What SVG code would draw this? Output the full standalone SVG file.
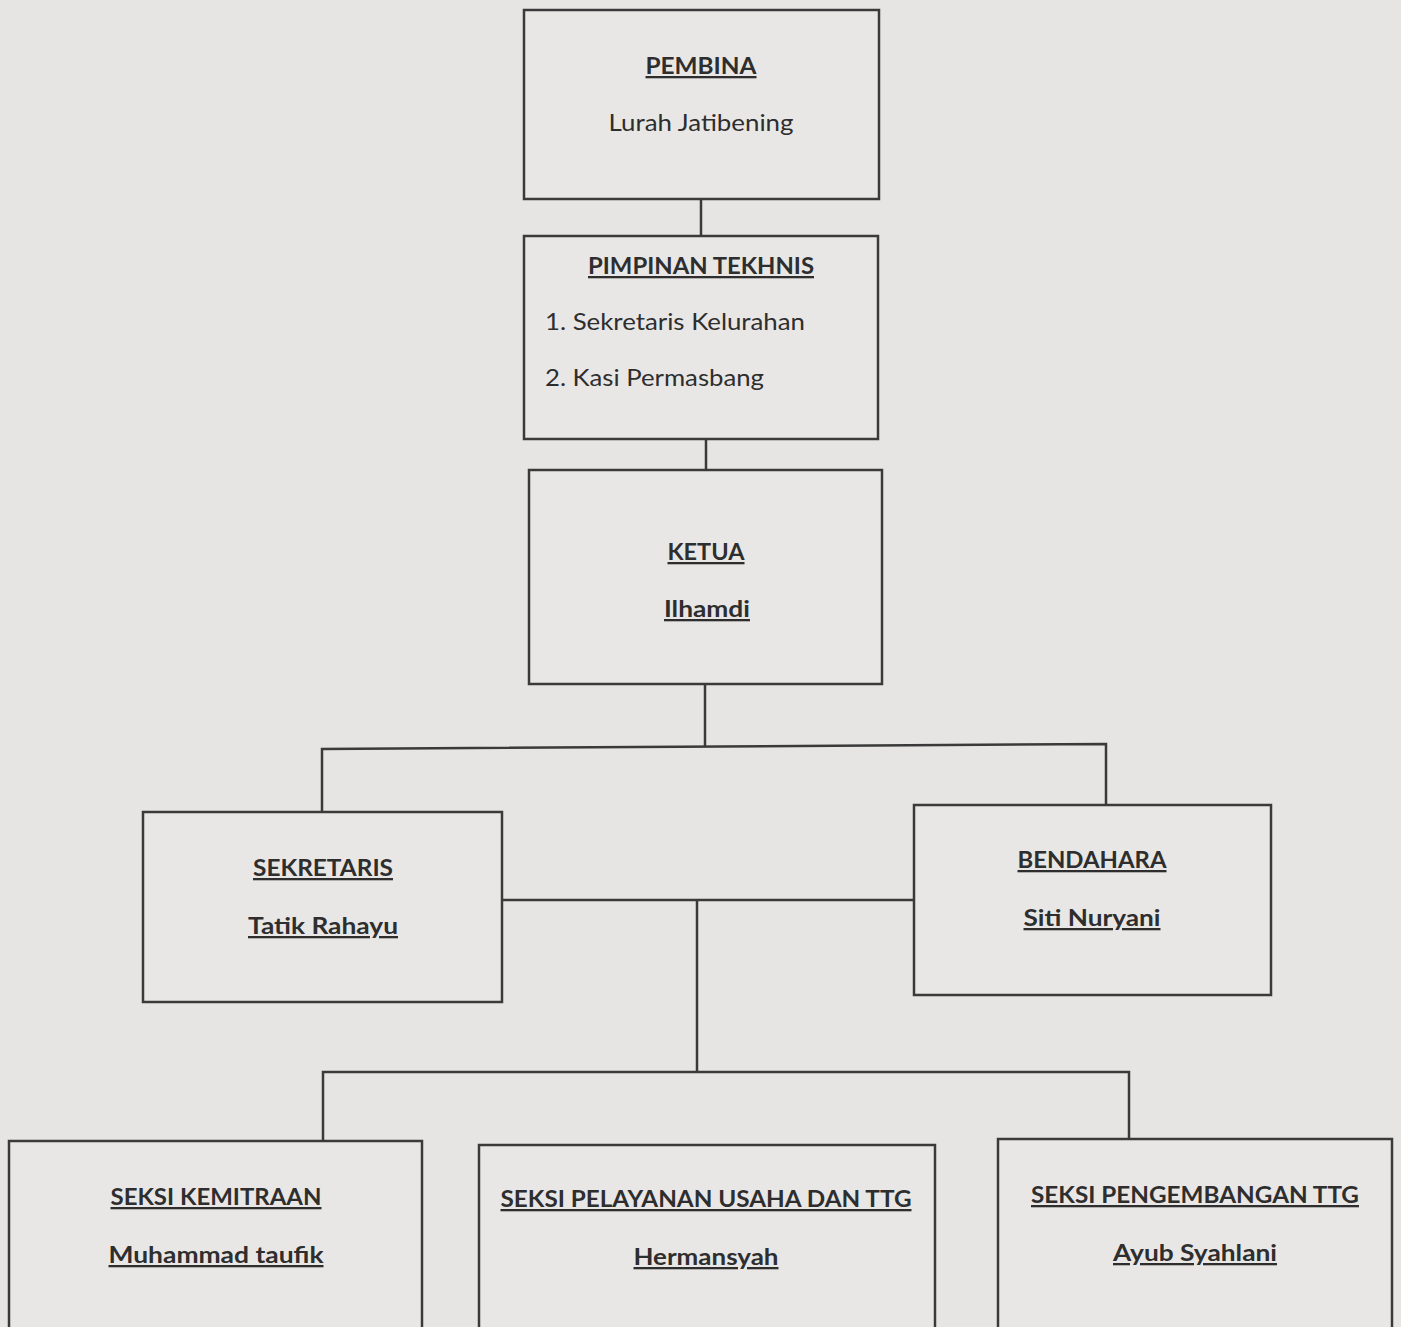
<svg xmlns="http://www.w3.org/2000/svg" width="1401" height="1327" viewBox="0 0 1401 1327">
<style>
.box{fill:#e9e7e6;stroke:#3a3a3a;stroke-width:2.5}
.ln{fill:none;stroke:#3a3a3a;stroke-width:2.5}
text{font-family:Lato,"Open Sans","Liberation Sans",sans-serif;font-size:23px;fill:#2e2e2e}
.b{font-weight:bold;text-decoration:underline}
.c{text-anchor:middle}
</style>
<rect width="1401" height="1327" fill="#e7e5e4"/>
<g id="connectors">
<path class="ln" d="M701 199V236"/>
<path class="ln" d="M706 435V470"/>
<path class="ln" d="M705 684V746"/>
<path class="ln" d="M322 812V749L1106 744V805"/>
<path class="ln" d="M502 900H914"/>
<path class="ln" d="M697 900V1072"/>
<path class="ln" d="M323 1141V1072H1129V1147"/>
</g>
<g id="pembina">
<rect class="box" x="524" y="10" width="355" height="189"/>
<text class="b c" x="701" y="74" textLength="111" lengthAdjust="spacingAndGlyphs">PEMBINA</text>
<text class="c" x="701" y="131" textLength="185" lengthAdjust="spacingAndGlyphs">Lurah Jatibening</text>
</g>
<g id="pimpinan">
<rect class="box" x="524" y="236" width="354" height="203"/>
<text class="b c" x="701" y="274" textLength="226" lengthAdjust="spacingAndGlyphs">PIMPINAN TEKHNIS</text>
<text x="545" y="330" textLength="260" lengthAdjust="spacingAndGlyphs">1. Sekretaris Kelurahan</text>
<text x="545" y="386" textLength="219" lengthAdjust="spacingAndGlyphs">2. Kasi Permasbang</text>
</g>
<g id="ketua">
<rect class="box" x="529" y="470" width="353" height="214"/>
<text class="b c" x="706" y="560" textLength="77" lengthAdjust="spacingAndGlyphs">KETUA</text>
<text class="b c" x="707" y="617" textLength="86" lengthAdjust="spacingAndGlyphs">Ilhamdi</text>
</g>
<g id="sekretaris">
<rect class="box" x="143" y="812" width="359" height="190"/>
<text class="b c" x="323" y="876" textLength="140" lengthAdjust="spacingAndGlyphs">SEKRETARIS</text>
<text class="b c" x="323" y="934" textLength="150" lengthAdjust="spacingAndGlyphs">Tatik Rahayu</text>
</g>
<g id="bendahara">
<rect class="box" x="914" y="805" width="357" height="190"/>
<text class="b c" x="1092" y="868" textLength="149" lengthAdjust="spacingAndGlyphs">BENDAHARA</text>
<text class="b c" x="1092" y="926" textLength="137" lengthAdjust="spacingAndGlyphs">Siti Nuryani</text>
</g>
<g id="seksi-kemitraan">
<rect class="box" x="9" y="1141" width="413" height="200"/>
<text class="b c" x="216" y="1205" textLength="211" lengthAdjust="spacingAndGlyphs">SEKSI KEMITRAAN</text>
<text class="b c" x="216" y="1263" textLength="215" lengthAdjust="spacingAndGlyphs">Muhammad taufik</text>
</g>
<g id="seksi-pelayanan">
<rect class="box" x="479" y="1145" width="456" height="200"/>
<text class="b c" x="706" y="1207" textLength="411" lengthAdjust="spacingAndGlyphs">SEKSI PELAYANAN USAHA DAN TTG</text>
<text class="b c" x="706" y="1265" textLength="145" lengthAdjust="spacingAndGlyphs">Hermansyah</text>
</g>
<g id="seksi-pengembangan">
<rect class="box" x="998" y="1139" width="394" height="200"/>
<text class="b c" x="1195" y="1203" textLength="328" lengthAdjust="spacingAndGlyphs">SEKSI PENGEMBANGAN TTG</text>
<text class="b c" x="1195" y="1261" textLength="164" lengthAdjust="spacingAndGlyphs">Ayub Syahlani</text>
</g>
</svg>
